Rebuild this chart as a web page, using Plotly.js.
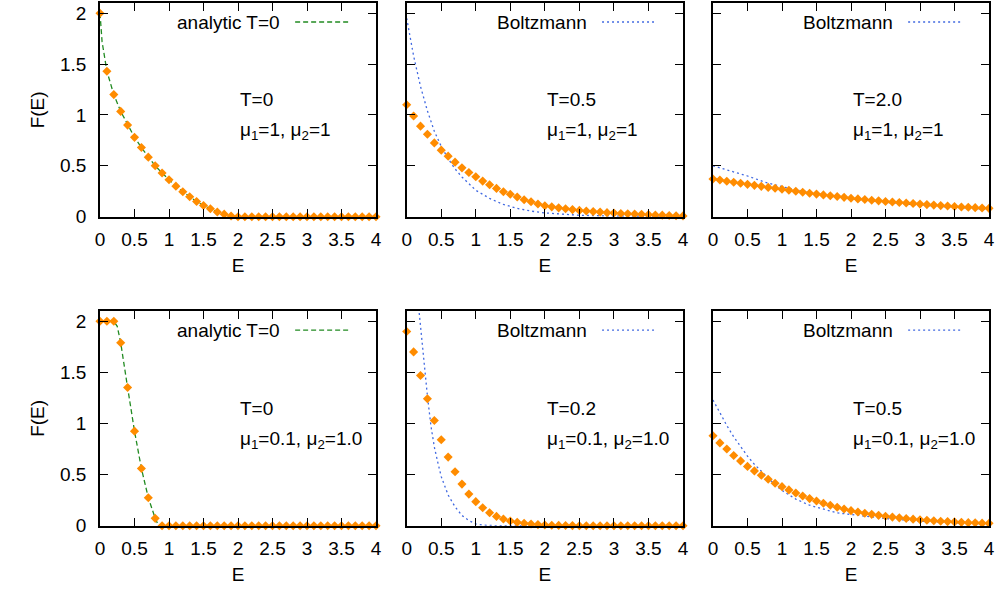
<!DOCTYPE html>
<html>
<head>
<meta charset="utf-8">
<script src="https://cdn.plot.ly/plotly-3.0.1.min.js"></script>
<style>html,body{margin:0;padding:0;background:#fff;}#chart{width:1001px;height:593px;}</style>
</head>
<body>
<div id="chart"></div>
<script>
// ---------- data ----------
var E = [0,0.1,0.2,0.3,0.4,0.5,0.6,0.7,0.8,0.9,1.0,1.1,1.2,1.3,1.4,1.5,1.6,1.7,1.8,1.9,2.0,
         2.1,2.2,2.3,2.4,2.5,2.6,2.7,2.8,2.9,3.0,3.1,3.2,3.3,3.4,3.5,3.6,3.7,3.8,3.9,4.0];

// panel 1: T=0, mu1=1, mu2=1
var pts1 = [2.0,1.43,1.20,1.035,0.90,0.78,0.68,0.585,0.50,0.43,0.363,0.30,0.245,0.196,0.15,0.11,0.078,0.046,0.025,0.007,
            0,0,0,0,0,0,0,0,0,0,0,0,0,0,0,0,0,0,0,0,0];
var anaE1 = [0,0.03,0.1,0.2,0.3,0.4,0.5,0.6,0.7,0.8,0.9,1.0,1.1,1.2,1.3,1.4,1.5,1.6,1.7,1.8,1.9,2.0,4.0];
var ana1  = [2.0,1.72,1.43,1.20,1.035,0.90,0.78,0.68,0.585,0.50,0.43,0.363,0.30,0.245,0.196,0.15,0.11,0.078,0.046,0.025,0.007,0,0];

// panel 2: T=0.5, mu1=1, mu2=1
var pts2 = [1.10,0.99,0.89,0.81,0.725,0.654,0.595,0.536,0.48,0.435,0.392,0.35,0.314,0.278,0.245,0.22,0.193,0.167,0.147,0.125,0.108,
            0.097,0.087,0.078,0.070,0.062,0.056,0.050,0.045,0.040,0.036,0.032,0.029,0.026,0.023,0.020,0.017,0.015,0.012,0.010,0.008];
var bolE2 = [0,0.1,0.2,0.3,0.4,0.5,0.6,0.7,0.8,0.9,1.0,1.2,1.4,1.6,1.8,2.0,2.5,3.0,3.5,4.0];
var bol2  = [1.95,1.58,1.28,1.04,0.84,0.69,0.57,0.47,0.39,0.32,0.26,0.18,0.12,0.082,0.055,0.037,0.014,0.006,0.003,0.001];

// panel 3: T=2.0, mu1=1, mu2=1
var pts3 = [0.370,0.360,0.349,0.339,0.328,0.318,0.308,0.298,0.288,0.279,0.270,0.260,0.250,0.241,0.231,0.222,0.214,0.206,0.198,0.190,0.182,
            0.175,0.169,0.162,0.156,0.150,0.145,0.139,0.134,0.129,0.124,0.119,0.114,0.109,0.105,0.100,0.096,0.093,0.089,0.086,0.082];
var bolE3 = [0,0.25,0.5,0.75,1.0,1.25,1.5,1.75,2.0,2.5,3.0,3.5,4.0];
var bol3  = [0.50,0.45,0.40,0.34,0.295,0.258,0.226,0.198,0.176,0.14,0.113,0.09,0.072];

// panel 4: T=0, mu1=0.1, mu2=1.0
var pts4 = [2.0,2.0,2.0,1.79,1.352,0.925,0.56,0.274,0.072,
            0,0,0,0,0,0,0,0,0,0,0,0,0,0,0,0,0,0,0,0,0,0,0,0,0,0,0,0,0,0,0,0];
var anaE4 = [0,0.1,0.2,0.25,0.3,0.4,0.5,0.6,0.7,0.8,0.85,4.0];
var ana4  = [2.0,2.0,2.0,1.95,1.79,1.352,0.925,0.56,0.274,0.072,0,0];

// panel 5: T=0.2, mu1=0.1, mu2=1.0
var pts5 = [1.90,1.70,1.469,1.241,1.029,0.84,0.671,0.528,0.407,0.309,0.235,0.176,0.127,0.091,0.065,0.046,0.033,0.023,0.016,0.011,0.007,
            0.005,0.003,0.002,0.001,0,0,0,0,0,0,0,0,0,0,0,0,0,0,0,0];
var bolE5 = [0.1,0.15,0.18,0.2,0.25,0.3,0.35,0.4,0.45,0.5,0.6,0.7,0.8,0.9,1.0,1.1,1.2,1.5,4.0];
var bol5  = [3.4,2.35,2.09,1.95,1.60,1.27,0.98,0.77,0.62,0.48,0.30,0.185,0.10,0.05,0.018,0.006,0.002,0,0];

// panel 6: T=0.5, mu1=0.1, mu2=1.0
var pts6 = [0.88,0.81,0.75,0.686,0.634,0.58,0.536,0.493,0.454,0.415,0.382,0.35,0.32,0.29,0.265,0.242,0.219,0.2,0.18,0.163,0.147,
            0.134,0.122,0.111,0.101,0.092,0.084,0.077,0.070,0.064,0.058,0.053,0.048,0.044,0.040,0.037,0.033,0.030,0.028,0.025,0.023];
var bolE6 = [0,0.1,0.2,0.3,0.4,0.5,0.6,0.7,0.8,0.9,1.0,1.2,1.4,1.6,1.8,2.0,2.5,3.0,3.5,4.0];
var bol6  = [1.23,1.10,0.98,0.87,0.77,0.68,0.60,0.53,0.46,0.40,0.345,0.26,0.20,0.16,0.125,0.11,0.07,0.044,0.027,0.016];

var tempLabels = ["T=0","T=0.5","T=2.0","T=0","T=0.2","T=0.5"];
var muLabels = ["μ<sub>1</sub>=1, μ<sub>2</sub>=1","μ<sub>1</sub>=1, μ<sub>2</sub>=1","μ<sub>1</sub>=1, μ<sub>2</sub>=1",
                "μ<sub>1</sub>=0.1, μ<sub>2</sub>=1.0","μ<sub>1</sub>=0.1, μ<sub>2</sub>=1.0","μ<sub>1</sub>=0.1, μ<sub>2</sub>=1.0"];
var legendNames = ["analytic T=0","Boltzmann","Boltzmann","analytic T=0","Boltzmann","Boltzmann"];
var xTicks = [0,0.5,1,1.5,2,2.5,3,3.5,4];
var xTickText = ["0","0.5","1","1.5","2","2.5","3","3.5","4"];
var yTicks = [0,0.5,1,1.5,2];
var yTickText = ["0","0.5","1","1.5","2"];

// ---------- styling ----------
var FONT = "Liberation Sans, Arial, sans-serif";
var FS = 19;
var ORANGE = "#ff8c00", GREEN = "#228b22", BLUE = "#4169e1";
var W = 1001, H = 593;
var colPx = [[100,376],[406.7,683],[713,989]];
var rowPx = [[3,216.7],[311,525.7]];

var lineX = [anaE1,bolE2,bolE3,anaE4,bolE5,bolE6];
var lineY = [ana1,bol2,bol3,ana4,bol5,bol6];
var ptsY  = [pts1,pts2,pts3,pts4,pts5,pts6];
var isAna = [true,false,false,true,false,false];

var data = [], annotations = [], shapes = [];
var layout = {
  width: W, height: H,
  margin: {l:0,r:0,t:0,b:0},
  paper_bgcolor: "#fff", plot_bgcolor: "#fff",
  showlegend: false,
  font: {family: FONT, size: FS, color: "#000"}
};

for (var i = 0; i < 6; i++) {
  var r = Math.floor(i/3), c = i % 3;
  var sfx = i === 0 ? "" : String(i+1);
  var xa = "x" + sfx, ya = "y" + sfx;
  var col = isAna[i] ? GREEN : BLUE;
  data.push({
    x: lineX[i], y: lineY[i], xaxis: xa, yaxis: ya, type: "scatter", mode: "lines",
    name: legendNames[i],
    line: {color: col, width: 1.3, dash: isAna[i] ? "5px,3px" : "2px,3px"},
    hoverinfo: "skip"
  });
  data.push({
    x: E, y: ptsY[i], xaxis: xa, yaxis: ya, type: "scatter", mode: "markers",
    name: "F(E)", cliponaxis: false,
    marker: {symbol: "diamond", size: 7, color: ORANGE, line: {width: 0}}
  });
  var axCommon = {
    showline: true, linecolor: "#000", linewidth: 1.8, mirror: "ticks",
    ticks: "inside", ticklen: 8, tickwidth: 1.3, tickcolor: "#000",
    showgrid: false, zeroline: false, fixedrange: true,
    tickfont: {family: FONT, size: FS, color: "#000"}
  };
  layout["xaxis" + sfx] = Object.assign({}, axCommon, {
    domain: [colPx[c][0]/W, colPx[c][1]/W], range: [0,4], anchor: ya,
    tickmode: "array", tickvals: xTicks, ticktext: xTickText, ticklabelstandoff: 5,
    title: {text: "E", font: {family: FONT, size: FS}, standoff: 9}
  });
  var yax = Object.assign({}, axCommon, {
    domain: [1 - rowPx[r][1]/H, 1 - rowPx[r][0]/H], range: [0,2.1], anchor: xa,
    tickmode: "array", tickvals: yTicks, ticktext: yTickText, ticklabelstandoff: 8,
    showticklabels: c === 0
  });
  if (c === 0) yax.title = {text: "F(E)", font: {family: FONT, size: FS}, standoff: 10};
  layout["yaxis" + sfx] = yax;
  annotations.push({xref: xa, yref: ya, x: 2.0, y: 1.15, text: tempLabels[i], showarrow: false,
    xanchor: "left", yanchor: "middle", font: {family: FONT, size: FS, color: "#000"}});
  annotations.push({xref: xa, yref: ya, x: 2.0, y: 0.84, text: muLabels[i], showarrow: false,
    xanchor: "left", yanchor: "middle", font: {family: FONT, size: FS, color: "#000"}});
  annotations.push({xref: xa + " domain", yref: ya + " domain", x: 0.66, y: 0.911, text: legendNames[i],
    showarrow: false, xanchor: "right", yanchor: "middle", font: {family: FONT, size: FS, color: "#000"}});
  shapes.push({type: "line", xref: xa + " domain", yref: ya + " domain", x0: 0.707, x1: 0.905, y0: 0.911, y1: 0.911,
    line: {color: col, width: 1.3, dash: isAna[i] ? "5px,3px" : "2px,3px"}});
}
layout.annotations = annotations;
layout.shapes = shapes;

Plotly.newPlot("chart", data, layout, {displayModeBar: false});
</script>
</body>
</html>
